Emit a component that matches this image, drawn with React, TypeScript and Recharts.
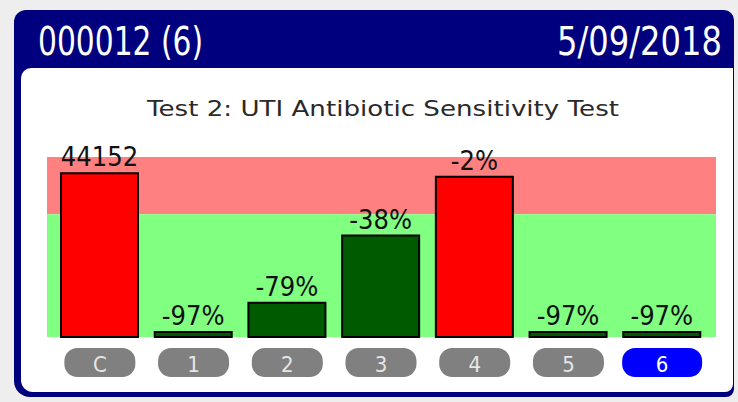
import React from 'react';
import { BarChart, Bar, XAxis, YAxis, ReferenceArea, Cell, LabelList } from 'recharts';

const categories = ['C', '1', '2', '3', '4', '5', '6'];
const relativeValues = [100, 3, 21, 62, 98, 3, 3];
const valueLabels = ['44152', '-97%', '-79%', '-38%', '-2%', '-97%', '-97%'];
const threshold = 75;
const yMax = 110;
const selectedCategory = '6';
const headerLeft = '000012 (6)';
const headerRight = '5/09/2018';
const title = 'Test 2: UTI Antibiotic Sensitivity Test';

const data = categories.map((c, i) => ({ name: c, value: relativeValues[i], label: valueLabels[i] }));

const PillTick = (props: any) => {
  const { x, y, payload } = props;
  const sel = payload.value === selectedCategory;
  const w = sel ? 80 : 71;
  return (
    <g>
      <rect x={x - w / 2} y={y + 11} width={w} height={29} rx={13} fill={sel ? '#0000ff' : '#808080'} />
      <text
        x={x}
        y={y + 35}
        textAnchor="middle"
        fontSize={22}
        fontFamily="DejaVu Sans Condensed"
        fill={sel ? '#ffffff' : '#e6e6e6'}
      >
        {payload.value}
      </text>
    </g>
  );
};

const renderLabel = (props: any) => {
  const { x, y, width, value } = props;
  return (
    <text
      x={x + width / 2}
      y={y - 7}
      textAnchor="middle"
      fontSize={27}
      fontFamily="DejaVu Sans Condensed"
      fill="#111111"
    >
      {value}
    </text>
  );
};

export default function App() {
  return (
    <div style={{ position: 'absolute', left: 0, top: 0, width: 738, height: 402, background: '#eeeeee', overflow: 'hidden' }}>
      <div style={{ position: 'absolute', left: 14, top: 10, width: 720, height: 387, background: '#00007f', borderRadius: '12px 10px 8px 16px' }} />
      <div style={{ position: 'absolute', left: 21, top: 68, width: 712, height: 324, background: '#ffffff', borderRadius: '10px 0 8px 12px' }} />
      <div style={{ position: 'absolute', left: 0, top: 0 }}>
        <BarChart width={738} height={402} data={data} margin={{ top: 157, right: 22, bottom: 15, left: 47 }}>
          <XAxis xAxisId="bg" type="number" domain={[0, 1]} allowDataOverflow hide />
          <XAxis
            dataKey="name"
            height={50}
            axisLine={false}
            tickLine={false}
            tickSize={0}
            tickMargin={0}
            padding={{ left: 6, right: 7 }}
            tick={<PillTick />}
            interval={0}
          />
          <YAxis hide domain={[0, yMax]} />
          <ReferenceArea xAxisId="bg" y1={threshold} y2={yMax} fill="#ff8080" fillOpacity={1} stroke="none" />
          <ReferenceArea xAxisId="bg" y1={0} y2={threshold} fill="#80ff80" fillOpacity={1} stroke="none" />
          <Bar dataKey="value" barSize={77} stroke="#000000" strokeWidth={2} isAnimationActive={false}>
            {data.map((d, i) => (
              <Cell key={i} fill={d.value >= threshold ? '#ff0000' : '#005a00'} />
            ))}
            <LabelList dataKey="label" content={renderLabel} />
          </Bar>
        </BarChart>
      </div>
      <svg width={738} height={402} style={{ position: 'absolute', left: 0, top: 0, pointerEvents: 'none' }}>
        <g transform="translate(38,55) scale(1,1.33)">
          <text x={0} y={0} fontSize={30} fontFamily="DejaVu Sans Condensed" fill="#ffffff" textLength={165} lengthAdjust="spacingAndGlyphs">
            {headerLeft}
          </text>
        </g>
        <g transform="translate(557,55) scale(1,1.33)">
          <text x={0} y={0} fontSize={30} fontFamily="DejaVu Sans Condensed" fill="#ffffff" textLength={165} lengthAdjust="spacingAndGlyphs">
            {headerRight}
          </text>
        </g>
        <text x={147} y={116} fontSize={22} fontFamily="DejaVu Sans" fill="#2a2a2a" textLength={472} lengthAdjust="spacingAndGlyphs">
          {title}
        </text>
      </svg>
    </div>
  );
}
